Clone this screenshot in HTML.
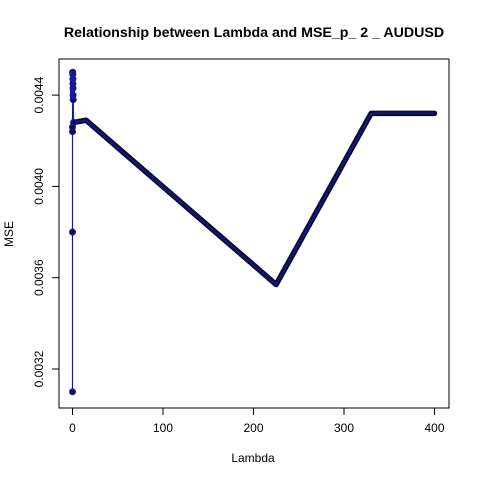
<!DOCTYPE html>
<html><head><meta charset="utf-8"><style>
body{margin:0;background:#fff;}
svg{display:block;font-family:"Liberation Sans",sans-serif;}
</style></head><body>
<svg id="chart" width="480" height="480" xmlns="http://www.w3.org/2000/svg">
<rect width="480" height="480" fill="#fff"/>
<text x="254" y="37" font-size="14.2" font-weight="bold" text-anchor="middle">Relationship between Lambda and MSE_p_ 2 _ AUDUSD</text>
<rect x="59" y="59" width="390" height="349" fill="none" stroke="#000"/>
<text x="253" y="462" font-size="12" text-anchor="middle">Lambda</text>
<text x="0" y="0" font-size="12" text-anchor="middle" transform="translate(13,234) rotate(-90)">MSE</text>
<g id="xaxis"></g><g id="yaxis"></g><g id="series"></g>
</svg>
<script>
const xTicks=[0,100,200,300,400];
const yTicks=[0.0032,0.0036,0.0040,0.0044];
const yTickLabels=["0.0032","0.0036","0.0040","0.0044"];
const lambdaStart=[0,0,0,0,0.2,0.3,0.4,0.5,0.6,0.7,0.8,1.2,1.5];
const mseStart=[0.00310,0.00380,0.00424,0.00426,0.00450,0.00449,0.00447,0.00445,0.00443,0.00440,0.00438,0.00428,0.00428];
const lambdaMain=[1.5,15,225,330,400];
const mseMain=[0.00428,0.00429,0.00357,0.00432,0.00432];
const NS="http://www.w3.org/2000/svg";
const sx=v=>72.5+v*0.905;
const sy=v=>369-(v-0.0032)/0.0004*91.3;
function mk(t,a,p){const e=document.createElementNS(NS,t);for(const k in a)e.setAttribute(k,a[k]);p.appendChild(e);return e;}
const xa=document.getElementById('xaxis'),ya=document.getElementById('yaxis'),se=document.getElementById('series');
xTicks.forEach(t=>{
 const l=mk('line',{x1:sx(t),x2:sx(t),y1:408,y2:415,stroke:'#000'},xa);
 
 
 const tx=mk('text',{x:sx(t),y:432,'font-size':12,'text-anchor':'middle'},xa);tx.textContent=t;
 
 
});
yTicks.forEach((t,i)=>{
 const l=mk('line',{x1:52,x2:59,y1:sy(t),y2:sy(t),stroke:'#000'},ya);
 
 
 const tx=mk('text',{x:0,y:0,'font-size':12,'text-anchor':'middle',transform:`translate(43,${sy(t)}) rotate(-90)`},ya);tx.textContent=yTickLabels[i];
 
 
});
const ptsS=lambdaStart.map((x,i)=>sx(x)+','+sy(mseStart[i])).join(' ');
const l1=mk('polyline',{points:ptsS,fill:'none',stroke:'#1a1aa0','stroke-width':1.2},se);


const ptsM=lambdaMain.map((x,i)=>sx(x)+','+sy(mseMain[i])).join(' ');
const l2=mk('polyline',{points:ptsM,fill:'none',stroke:'#0b0b3a','stroke-width':5.5,'stroke-linejoin':'round','stroke-linecap':'round'},se);


const l3=mk('polyline',{points:ptsM,fill:'none',stroke:'#1a1a80','stroke-width':1.5},se);


lambdaStart.forEach((x,i)=>{
 const c=mk('circle',{cx:sx(x),cy:sy(mseStart[i]),r:3,fill:'#0b0b45',stroke:'#1a1aa0'},se);
 
 
});
const cl=mk('rect',{x:sx(0)-2.5,y:sy(0.00450),width:5,height:sy(0.00438)-sy(0.00450),rx:2.5,fill:'#1a1aa0'},se);


</script>
</body></html>
